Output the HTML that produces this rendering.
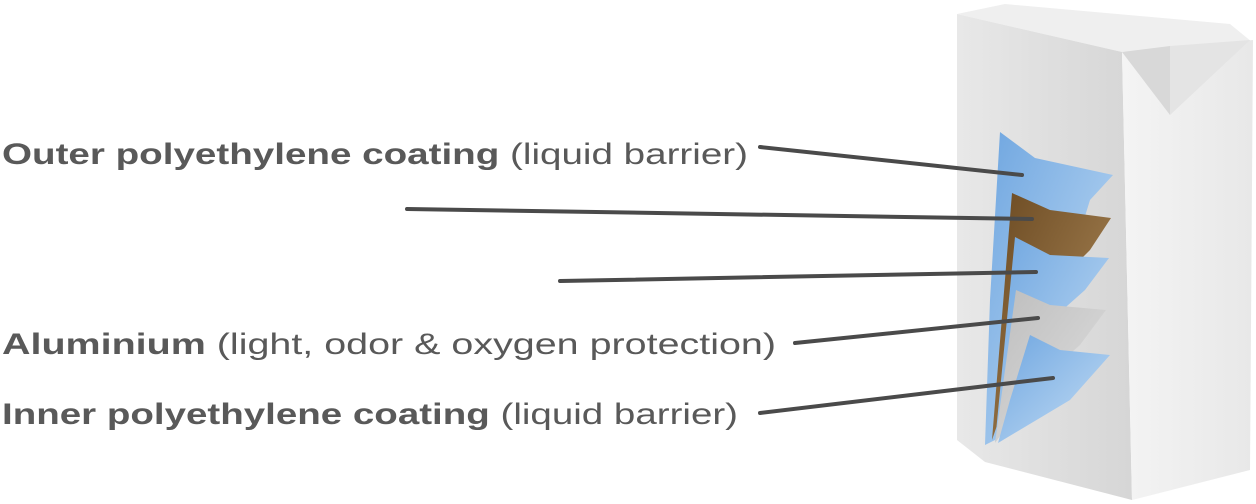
<!DOCTYPE html>
<html><head><style>body{margin:0;background:#fff}svg{display:block}</style></head>
<body>
<svg width="1256" height="504" viewBox="0 0 1256 504" xmlns="http://www.w3.org/2000/svg">
<defs>
<linearGradient id="lf" x1="0" y1="0" x2="1" y2="0"><stop offset="0" stop-color="#e8e8e8"/><stop offset="1" stop-color="#d6d6d6"/></linearGradient>
<linearGradient id="rf" x1="0" y1="0" x2="1" y2="0"><stop offset="0" stop-color="#f4f4f4"/><stop offset="1" stop-color="#e8e8e8"/></linearGradient>
<linearGradient id="bl" x1="0" y1="0" x2="1" y2="1"><stop offset="0" stop-color="#6fa6e0"/><stop offset="1" stop-color="#c5def5"/></linearGradient>
<linearGradient id="br" x1="0" y1="0" x2="1" y2="1"><stop offset="0" stop-color="#6b4a22"/><stop offset="1" stop-color="#b08c5c"/></linearGradient>
<linearGradient id="gr" x1="0" y1="0" x2="1" y2="1"><stop offset="0" stop-color="#bdbdbd"/><stop offset="1" stop-color="#e0e0e0"/></linearGradient>
</defs>
<polygon points="1005,4 1230,24 1252,42 1122,52 957,14" fill="#efefef"/>
<polygon points="957,14 1122,52 1132,500 985,462 957,440" fill="url(#lf)"/>
<polygon points="1122,52 1253,40 1250,470 1132,500" fill="url(#rf)"/>
<polygon points="1122,52 1170,46 1170,115" fill="#d8d8d8"/>
<polygon points="1170,46 1250,40 1170,115" fill="#e4e4e4"/>
<polygon points="1000,132 1035,158 1113,175 1090,200 1050,330 995,440 985,445 990,300" fill="url(#bl)"/>
<polygon points="1012,193 1050,210 1111,218 1090,250 1040,300 992,440" fill="url(#br)"/>
<polygon points="1015,237 1050,255 1109,258 1085,290 1040,330 995,442" fill="url(#bl)"/>
<polygon points="1016,290 1050,305 1106,310 1080,345 1040,380 995,443" fill="url(#gr)"/>
<polygon points="1030,335 1060,350 1110,355 1070,400 998,443 1010,400" fill="url(#bl)"/>
<g stroke="#4a4a4a" stroke-width="4" stroke-linecap="round">
<line x1="760" y1="147" x2="1022" y2="175"/>
<line x1="407" y1="209" x2="1032" y2="219"/>
<line x1="560" y1="281" x2="1036" y2="272"/>
<line x1="795" y1="343" x2="1038" y2="318"/>
<line x1="760" y1="413" x2="1053" y2="378"/>
</g>
<g font-family="Liberation Sans, sans-serif" font-size="30" fill="#595959">
<text x="2" y="164" textLength="746" lengthAdjust="spacingAndGlyphs"><tspan font-weight="bold">Outer polyethylene coating</tspan> (liquid barrier)</text>
<text x="2" y="354" textLength="774" lengthAdjust="spacingAndGlyphs"><tspan font-weight="bold">Aluminium</tspan> (light, odor &amp; oxygen protection)</text>
<text x="2" y="424" textLength="736" lengthAdjust="spacingAndGlyphs"><tspan font-weight="bold">Inner polyethylene coating</tspan> (liquid barrier)</text>
</g>
</svg>
</body></html>
